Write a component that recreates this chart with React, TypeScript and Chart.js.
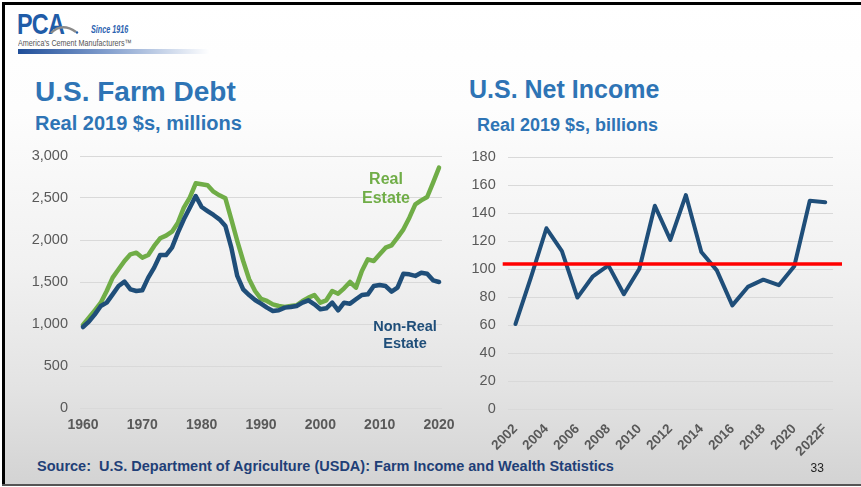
import React, { useEffect, useRef } from "react";
import { Chart, registerables } from "chart.js";

Chart.register(...registerables);
Chart.defaults.font.family = "'Liberation Sans', Arial, sans-serif";

// ---------- Data ----------
const debtYears = [
  "1960", "1961", "1962", "1963", "1964", "1965", "1966", "1967", "1968", "1969",
  "1970", "1971", "1972", "1973", "1974", "1975", "1976", "1977", "1978", "1979",
  "1980", "1981", "1982", "1983", "1984", "1985", "1986", "1987", "1988", "1989",
  "1990", "1991", "1992", "1993", "1994", "1995", "1996", "1997", "1998", "1999",
  "2000", "2001", "2002", "2003", "2004", "2005", "2006", "2007", "2008", "2009",
  "2010", "2011", "2012", "2013", "2014", "2015", "2016", "2017", "2018", "2019",
  "2020",
];

const realEstateDebt = [
  990, 1076, 1163, 1254, 1393, 1552, 1651, 1750, 1829, 1849,
  1790, 1821, 1929, 2020, 2052, 2099, 2206, 2385, 2504, 2675,
  2663, 2651, 2575, 2532, 2496, 2246, 1988, 1750, 1532, 1393,
  1300, 1274, 1234, 1214, 1203, 1214, 1222, 1274, 1314, 1345,
  1254, 1282, 1393, 1361, 1425, 1500, 1433, 1631, 1770, 1750,
  1829, 1909, 1937, 2028, 2127, 2266, 2425, 2472, 2512, 2683,
  2861,
];

const nonRealEstateDebt = [
  964, 1028, 1115, 1214, 1254, 1353, 1452, 1504, 1413, 1393,
  1401, 1552, 1671, 1821, 1821, 1909, 2087, 2246, 2385, 2524,
  2393, 2345, 2298, 2246, 2167, 1909, 1572, 1413, 1345, 1286,
  1242, 1195, 1155, 1163, 1195, 1203, 1214, 1254, 1282, 1234,
  1175, 1187, 1254, 1163, 1254, 1242, 1294, 1345, 1353, 1452,
  1464, 1452, 1385, 1433, 1599, 1591, 1572, 1611, 1599, 1520,
  1500,
];

const incomeYears = [
  "2002", "2003", "2004", "2005", "2006", "2007", "2008", "2009", "2010", "2011",
  "2012", "2013", "2014", "2015", "2016", "2017", "2018", "2019", "2020", "2021",
  "2022F",
];

const netIncome = [
  60.7, 94, 129.1, 112.8, 79.6, 94.8, 102.6, 82, 100.2, 145.2,
  120.8, 152.8, 112.1, 99, 74, 87.2, 92.4, 88.4, 102, 148.8,
  147.6,
];

const incomeAverage = 103.6;

const debtTickStep = 500;
const incomeTickStep = 20;

// ---------- Styles ----------
const BLUE = "#1F4E79";
const GREEN = "#70AD47";
const TITLE = "#2E74B5";
const TICK = "#595959";
const GRID = "#d9d9d9";
const FONT = "'Liberation Sans', Arial, sans-serif";

const redLinePlugin = {
  id: "avgLine",
  afterDatasetsDraw(chart: any) {
    const { ctx, chartArea, scales } = chart;
    const y = scales.y.getPixelForValue(incomeAverage);
    ctx.save();
    ctx.strokeStyle = "#FF0000";
    ctx.lineWidth = 3.6;
    ctx.beginPath();
    ctx.moveTo(chartArea.left - 5, y);
    ctx.lineTo(chartArea.right + 9, y);
    ctx.stroke();
    ctx.restore();
  },
};

const fixY = (w: number) => (s: any) => {
  s.width = w;
  s.paddingTop = 0;
  s.paddingBottom = 0;
};
const fixX = (h: number) => (s: any) => {
  s.height = h;
  s.paddingLeft = 0;
  s.paddingRight = 0;
};

function makeDebtConfig(): any {
  return {
    type: "line",
    data: {
      labels: debtYears,
      datasets: [
        {
          label: "Non-Real Estate",
          data: nonRealEstateDebt,
          borderColor: BLUE,
          borderWidth: 4.5,
          pointRadius: 0,
          tension: 0,
          borderJoinStyle: "round",
          borderCapStyle: "round",
        },
        {
          label: "Real Estate",
          data: realEstateDebt,
          borderColor: GREEN,
          borderWidth: 4.5,
          pointRadius: 0,
          tension: 0,
          borderJoinStyle: "round",
          borderCapStyle: "round",
        },
      ],
    },
    options: {
      responsive: false,
      animation: false,
      events: [],
      layout: { padding: { top: 11, right: 23, left: 0, bottom: 0 } },
      plugins: { legend: { display: false }, tooltip: { enabled: false } },
      scales: {
        x: {
          type: "category",
          offset: true,
          grid: { display: false, drawTicks: false },
          border: { display: false },
          ticks: {
            autoSkip: false,
            maxRotation: 0,
            minRotation: 0,
            padding: 9,
            color: TICK,
            font: { size: 14, weight: "bold" },
            callback: (_v: any, i: number) =>
              Number(debtYears[i]) % 10 === 0 ? debtYears[i] : "",
          },
          afterFit: fixX(37),
        },
        y: {
          min: 0,
          max: 3000,
          ticks: {
            stepSize: debtTickStep,
            padding: 12,
            color: TICK,
            font: { size: 14.5 },
            callback: (v: any) => Number(v).toLocaleString("en-US"),
          },
          grid: { color: GRID, drawTicks: false, lineWidth: 1 },
          border: { display: false },
          afterFit: fixY(60),
        },
      },
    },
  };
}

function makeIncomeConfig(): any {
  return {
    type: "line",
    data: {
      labels: incomeYears,
      datasets: [
        {
          label: "Net Income",
          data: netIncome,
          borderColor: BLUE,
          borderWidth: 4,
          pointRadius: 0,
          tension: 0,
          borderJoinStyle: "round",
          borderCapStyle: "round",
        },
      ],
    },
    options: {
      responsive: false,
      animation: false,
      events: [],
      layout: { padding: { top: 12, right: 27, left: 0, bottom: 0 } },
      plugins: { legend: { display: false }, tooltip: { enabled: false } },
      scales: {
        x: {
          type: "category",
          offset: true,
          grid: { display: false, drawTicks: false },
          border: { display: false },
          ticks: {
            autoSkip: false,
            maxRotation: 45,
            minRotation: 45,
            padding: 12,
            color: TICK,
            font: { size: 13.5, weight: "bold" },
            callback: (_v: any, i: number) => (i % 2 === 0 ? incomeYears[i] : ""),
          },
          afterFit: fixX(48),
        },
        y: {
          min: 0,
          max: 180,
          ticks: {
            stepSize: incomeTickStep,
            padding: 12,
            color: TICK,
            font: { size: 14.5 },
          },
          grid: { color: GRID, drawTicks: false, lineWidth: 1 },
          border: { display: false },
          afterFit: fixY(45.7),
        },
      },
    },
    plugins: [redLinePlugin],
  };
}

function ChartCanvas(props: {
  make: () => any;
  left: number;
  top: number;
  width: number;
  height: number;
}) {
  const ref = useRef<HTMLCanvasElement | null>(null);
  useEffect(() => {
    if (!ref.current) return;
    const chart = new Chart(ref.current, props.make());
    return () => chart.destroy();
  }, []);
  return (
    <canvas
      ref={ref}
      width={props.width}
      height={props.height}
      style={{
        position: "absolute",
        left: props.left,
        top: props.top,
        width: props.width,
        height: props.height,
      }}
    />
  );
}

const abs = (o: React.CSSProperties): React.CSSProperties => ({
  position: "absolute",
  fontFamily: FONT,
  whiteSpace: "nowrap",
  ...o,
});

export default function App() {
  return (
    <div
      style={{
        position: "absolute",
        left: 0,
        top: 0,
        width: 861,
        height: 487,
        overflow: "hidden",
        background: "#ffffff",
        fontFamily: FONT,
      }}
    >
      {/* slide background */}
      <div
        style={{
          position: "absolute",
          left: 2,
          top: 2,
          width: 859,
          height: 483,
          background:
            "linear-gradient(to bottom, #ffffff 0%, #fdfdfd 22%, #f1f1f1 55%, #e3e3e3 80%, #d3d3d3 100%)",
        }}
      />
      {/* borders */}
      <div style={{ position: "absolute", left: 2, top: 2, width: 859, height: 3, background: "#000" }} />
      <div style={{ position: "absolute", left: 2, top: 2, width: 3, height: 483, background: "#000" }} />
      <div style={{ position: "absolute", left: 2, top: 484, width: 859, height: 2, background: "#555" }} />

      {/* logo */}
      <div
        style={abs({
          left: 17,
          top: 9,
          fontSize: 30,
          fontWeight: "bold",
          color: "#1F5CA8",
          transform: "scaleX(0.78)",
          transformOrigin: "left top",
          lineHeight: "30px",
          letterSpacing: -1,
        })}
      >
        PCA
      </div>
      <svg style={{ position: "absolute", left: 50, top: 17 }} width="30" height="22">
        <path d="M1 16 Q 12 5 26 15" stroke="#8a8a8a" strokeWidth="2.4" fill="none" />
        <circle cx="27" cy="15.5" r="1.2" fill="#1F5CA8" />
      </svg>
      <div
        style={abs({
          left: 91,
          top: 25,
          fontSize: 10,
          fontStyle: "italic",
          fontWeight: "bold",
          color: "#2B62B0",
          lineHeight: "10px",
          transform: "scaleX(0.72)",
          transformOrigin: "left top",
        })}
      >
        Since 1916
      </div>
      <div
        style={abs({
          left: 18,
          top: 39,
          fontSize: 9,
          color: "#555",
          lineHeight: "9px",
          transform: "scaleX(0.8)",
          transformOrigin: "left top",
        })}
      >
        America's Cement Manufacturers™
      </div>
      <div
        style={{
          position: "absolute",
          left: 18,
          top: 49,
          width: 192,
          height: 5,
          background: "linear-gradient(to right, #1F4E99 0%, #7f9ccc 45%, #ffffff 100%)",
        }}
      />

      {/* titles */}
      <div style={abs({ left: 35, top: 78.4, fontSize: 28, fontWeight: "bold", color: TITLE, lineHeight: 1 })}>
        U.S. Farm Debt
      </div>
      <div style={abs({ left: 35, top: 113.4, fontSize: 20, fontWeight: "bold", color: TITLE, lineHeight: 1 })}>
        Real 2019 $s, millions
      </div>
      <div style={abs({ left: 469, top: 77, fontSize: 25, fontWeight: "bold", color: TITLE, lineHeight: 1 })}>
        U.S. Net Income
      </div>
      <div style={abs({ left: 477, top: 115.7, fontSize: 18, fontWeight: "bold", color: TITLE, lineHeight: 1 })}>
        Real 2019 $s, billions
      </div>

      {/* charts */}
      <ChartCanvas make={makeDebtConfig} left={20} top={145} width={445} height={300} />
      <ChartCanvas make={makeIncomeConfig} left={462} top={145} width={398} height={312} />

      {/* series annotations */}
      <div
        style={abs({
          left: 346,
          top: 169.4,
          width: 80,
          textAlign: "center",
          fontSize: 16,
          fontWeight: "bold",
          color: GREEN,
          lineHeight: "19px",
        })}
      >
        Real
        <br />
        Estate
      </div>
      <div
        style={abs({
          left: 365,
          top: 317.9,
          width: 80,
          textAlign: "center",
          fontSize: 14.5,
          fontWeight: "bold",
          color: BLUE,
          lineHeight: "17px",
        })}
      >
        Non-Real
        <br />
        Estate
      </div>

      {/* footer */}
      <div
        style={abs({
          left: 37,
          top: 459,
          fontSize: 14.5,
          fontWeight: "bold",
          color: "#1F3F77",
          lineHeight: 1,
        })}
      >
        Source:&nbsp; U.S. Department of Agriculture (USDA): Farm Income and Wealth Statistics
      </div>
      <div style={abs({ left: 810.5, top: 461.7, fontSize: 12, color: "#222", lineHeight: 1 })}>33</div>
    </div>
  );
}
